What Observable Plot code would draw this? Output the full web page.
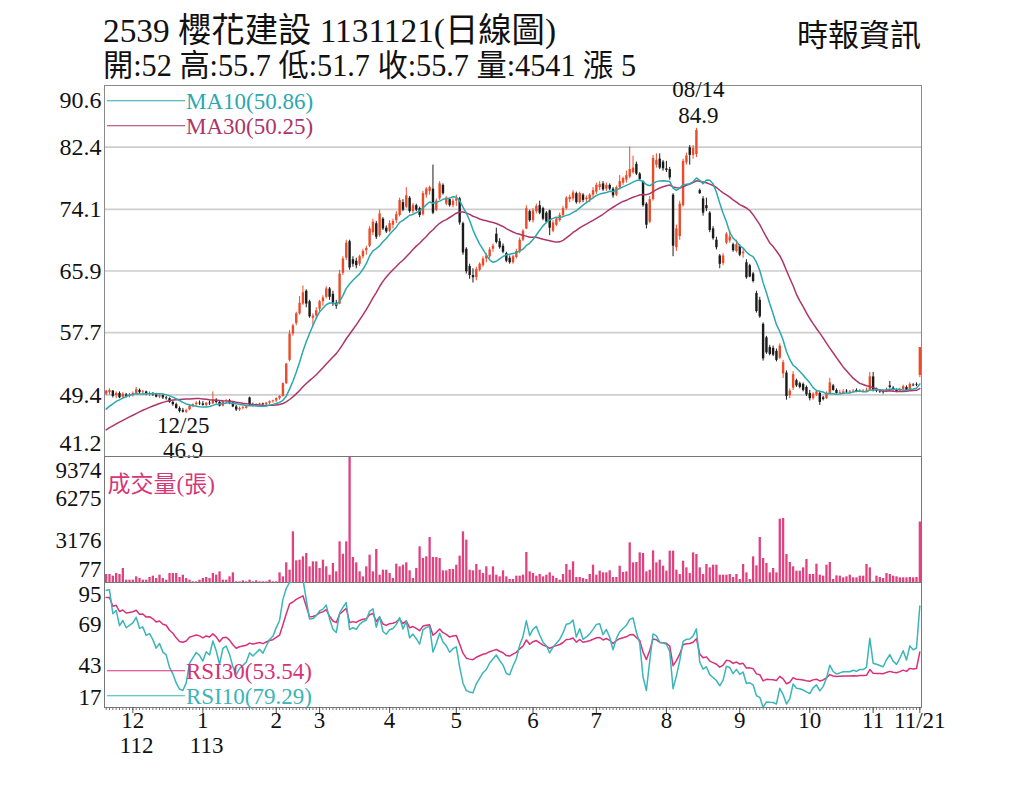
<!DOCTYPE html>
<html><head><meta charset="utf-8">
<script src="https://cdn.jsdelivr.net/npm/d3@7"></script>
<script src="https://cdn.jsdelivr.net/npm/@observablehq/plot@0.6"></script>
<style>
html,body{margin:0;padding:0;background:#fff;}
#chart{position:relative;width:1024px;height:788px;background:#fff;overflow:hidden;font-family:"Liberation Serif","Times New Roman","Noto Sans CJK TC",serif;}
#chart > svg{position:absolute;left:0;}
</style></head><body><div id="chart"></div>
<script>
// ---------- text ----------
const titleText = "2539  櫻花建設 1131121(日線圖)";
const quoteText = "開:52 高:55.7 低:51.7 收:55.7 量:4541 漲 5";
const sourceText = "時報資訊";
const volumeTitle = "成交量(張)";
const maLegend = [{label: "MA10(50.86)", key: "ma10"}, {label: "MA30(50.25)", key: "ma30"}];
const rsiLegend = [{label: "RSI30(53.54)", key: "rsi30"}, {label: "RSI10(79.29)", key: "rsi10"}];
const lowLabel = "12/25", highLabel = "08/14";

// ---------- axis ticks ----------
const priceTicks = [41.2, 49.4, 57.7, 65.9, 74.1, 82.4, 90.6];
const volumeTicks = [77, 3176, 6275, 9374];
const rsiTicks = [17, 43, 69, 95];
const monthIdx = [8, 29, 51, 64, 85, 105, 128, 147, 168, 190, 211, 230, 244];
const monthLabels = ["12", "1", "2", "3", "4", "5", "6", "7", "8", "9", "10", "11", "11/21"];
const yearIdx = [8, 29];
const yearLabels = ["112", "113"];

// closes before the window (inferred from where MA10/MA30 start)
const priorClose = [41.5,41.8,42.0,41.7,42.3,42.6,42.4,43.0,43.2,42.9,43.5,43.8,43.6,44.0,44.3,44.1,44.6,45.0,45.3,45.8,
  46.0,46.4,46.2,46.8,47.3,47.0,47.8,48.5,49.2];

// ---------- daily data (2023/11 .. 2024/11/21) ----------
const open = [
  49.5,49.7,49.9,49.3,49.6,49.1,49.4,49.2,
  49.4,49.6,50.0,49.7,49.8,49.5,49.6,49.4,49.1,49.3,49.0,48.9,48.4,48.1,47.6,47.3,47.1,47.4,47.9,48.1,48.3,
  48.2,48.0,48.3,48.2,48.7,48.4,47.9,48.5,48.6,48.3,47.8,47.4,47.6,47.6,49.0,48.1,48.0,48.1,48.2,48.1,48.3,48.5,
  48.6,48.9,49.2,50.9,54.0,57.5,58.9,60.2,61.5,63.2,61.8,59.6,59.9,
  60.8,61.8,62.4,63.5,62.8,61.6,61.5,65.6,67.6,69.8,67.4,67.2,66.8,67.8,68.6,69.2,71.0,72.2,70.6,72.8,71.6,
  71.2,72.0,72.6,73.3,75.0,74.4,75.6,73.8,74.6,74.2,73.4,76.0,76.5,76.8,74.0,75.5,77.3,74.8,75.4,74.6,
  75.2,75.5,72.2,68.8,66.5,65.3,65.0,66.0,66.6,67.5,67.8,68.8,70.8,69.8,69.2,68.2,67.6,67.0,67.7,68.4,70.0,71.5,73.8,
  72.6,73.8,74.6,74.2,73.6,73.9,71.2,72.0,72.6,73.3,74.2,75.4,75.5,76.2,75.0,76.0,75.4,75.4,76.0,
  76.4,77.0,77.5,76.8,77.3,76.8,76.0,77.0,77.6,78.0,78.4,79.0,80.1,78.8,77.8,74.8,72.4,75.4,80.0,80.8,80.4,
  79.5,79.4,76.0,69.0,70.5,74.6,80.3,82.3,81.3,81.4,76.6,75.5,74.6,73.6,71.5,70.0,67.9,66.9,69.6,69.9,69.4,68.5,
  69.2,68.2,67.0,66.6,65.5,62.9,62.0,58.8,57.0,55.7,55.6,55.2,54.3,52.2,52.3,49.3,50.3,51.3,50.9,50.8,50.4,
  49.6,48.9,49.4,49.6,49.0,48.9,49.6,50.6,50.0,49.6,49.6,49.9,49.7,49.8,50.0,49.8,49.8,49.9,50.0,
  51.8,50.0,49.9,49.8,49.8,50.6,50.3,50.0,49.9,50.1,50.4,50.1,50.7,50.8,52.0
];
const high = [
  50.0,50.2,50.0,49.8,49.8,49.7,49.6,49.6,
  49.8,50.4,50.2,50.0,49.9,49.8,49.7,49.6,49.5,49.4,49.2,49.0,48.6,48.3,47.8,47.6,47.5,48.0,48.2,48.5,48.6,
  48.5,48.4,48.6,49.8,48.9,48.6,48.6,48.8,48.8,48.5,48.0,47.8,47.9,48.0,49.1,48.3,48.2,48.3,48.3,48.4,48.6,48.7,
  49.0,49.3,51.0,53.6,58.0,58.8,60.4,62.5,63.9,63.4,62.0,60.2,61.0,
  62.0,62.6,63.8,63.7,63.2,62.0,66.0,67.8,70.0,70.0,67.8,67.6,68.0,68.8,69.2,71.8,72.8,72.5,74.0,73.0,71.9,
  72.6,72.8,73.8,75.6,75.4,77.0,75.8,74.9,74.8,74.4,76.5,77.0,77.2,80.0,75.5,77.8,77.5,75.8,75.6,75.5,
  76.0,75.7,72.4,69.0,66.8,66.2,66.4,67.0,67.8,68.2,69.0,69.5,71.6,70.2,69.5,68.4,67.9,68.0,68.8,70.3,71.4,74.6,74.0,
  74.2,74.8,75.2,74.4,73.8,74.0,72.6,73.0,73.6,74.5,75.8,76.0,76.6,76.4,76.4,76.2,75.9,76.2,77.0,
  77.6,77.8,77.8,77.6,77.5,77.0,77.2,78.6,78.4,79.2,82.4,81.2,80.4,79.0,77.9,75.0,75.8,81.3,81.5,81.5,80.6,
  80.5,79.7,76.2,72.0,75.2,80.8,81.6,82.6,82.6,84.9,76.8,75.8,75.6,73.8,71.8,70.4,68.1,68.2,71.0,71.3,69.6,70.0,
  69.4,68.8,67.4,66.8,65.7,63.2,62.4,59.0,57.2,56.0,55.9,55.5,56.2,54.0,52.6,50.2,52.5,51.5,51.1,51.0,50.6,
  50.0,49.7,50.0,49.8,49.2,49.8,51.6,50.8,50.2,50.0,50.1,50.1,50.0,50.1,50.2,50.1,50.1,50.3,52.4,
  52.4,50.3,50.1,50.0,50.3,51.2,50.5,50.2,50.3,50.7,50.6,51.0,50.9,51.0,55.7
];
const low = [
  49.3,49.4,49.0,48.9,48.9,48.9,49.0,49.0,
  49.1,49.5,49.5,49.4,49.3,49.2,49.2,49.0,48.9,48.8,48.7,48.3,47.9,47.5,47.0,47.0,46.9,47.3,47.7,47.9,48.0,
  47.9,47.8,48.0,48.1,48.2,47.8,47.8,48.2,48.1,47.7,47.2,47.2,47.4,47.5,47.9,47.8,47.8,47.9,47.9,48.0,48.1,48.3,
  48.4,48.7,49.1,50.8,53.8,57.2,58.6,60.0,61.3,61.0,59.6,58.5,59.5,
  60.5,61.2,62.2,62.0,61.2,60.8,61.4,65.3,67.3,66.0,66.4,66.2,66.5,67.5,68.0,69.0,70.6,70.1,70.4,71.3,70.9,
  71.0,71.5,72.2,73.1,73.8,74.2,73.6,73.5,73.8,73.0,73.2,75.6,76.0,73.4,73.8,75.3,76.0,74.6,74.4,74.3,
  74.5,72.0,68.0,65.5,64.8,64.3,64.6,65.8,66.4,67.0,67.5,68.4,69.5,68.8,68.2,67.0,66.8,66.8,67.5,68.2,69.8,71.4,72.4,
  72.3,73.5,73.4,72.6,72.2,70.6,71.0,71.8,72.4,73.0,74.0,75.0,75.2,74.8,74.8,75.0,74.9,75.0,75.6,
  76.1,76.6,76.5,76.5,76.6,75.6,75.8,76.8,77.3,77.6,78.2,78.8,78.6,77.8,74.4,71.5,72.2,75.2,79.6,79.4,79.2,
  79.0,78.0,67.8,68.5,70.0,74.4,80.0,80.0,80.8,81.0,76.1,73.2,73.8,71.0,70.0,68.7,66.2,66.6,69.4,69.6,68.4,68.3,
  67.8,67.6,64.8,65.0,64.3,60.3,59.6,53.9,54.8,54.6,54.5,53.8,54.1,51.6,48.7,48.9,50.0,50.4,50.2,49.8,49.2,
  48.6,48.7,49.2,48.0,48.6,48.8,49.5,49.9,49.5,49.5,49.5,49.6,49.6,49.7,49.7,49.7,49.7,49.8,49.9,
  49.8,49.7,49.6,49.5,49.7,50.2,49.9,49.7,49.8,50.0,49.9,50.0,50.5,50.5,51.7
];
const close = [
  49.9,50.0,49.2,49.6,49.0,49.5,49.2,49.4,
  49.6,50.1,49.7,49.8,49.5,49.6,49.4,49.1,49.3,49.0,48.9,48.4,48.1,47.6,47.2,47.1,47.3,47.9,48.1,48.3,48.2,
  48.0,48.3,48.2,48.7,48.4,47.9,48.5,48.6,48.3,47.8,47.4,47.6,47.7,47.8,48.1,48.0,48.1,48.2,48.1,48.3,48.5,48.6,
  48.9,49.2,50.9,53.5,57.5,58.6,60.2,61.6,63.0,61.5,59.8,59.9,60.6,
  61.8,62.3,63.5,62.4,61.5,61.2,65.5,67.5,69.6,66.3,66.8,66.6,67.8,68.5,68.9,71.5,72.4,70.4,73.5,71.5,71.1,
  72.2,72.5,73.4,75.3,74.0,75.9,73.8,74.6,74.0,73.3,76.2,76.8,77.0,73.6,75.2,77.5,76.2,75.6,74.6,75.2,
  75.5,72.3,68.3,65.8,65.3,65.0,66.1,66.8,67.5,67.9,68.7,69.2,69.7,69.0,68.4,67.2,67.0,67.8,68.5,70.0,71.2,74.2,72.6,
  73.9,74.5,73.6,72.8,72.4,71.6,72.3,72.8,73.3,74.2,75.6,75.7,76.3,75.0,76.2,75.3,75.6,76.0,76.6,
  77.3,77.4,76.7,77.3,76.8,75.9,77.0,77.8,78.2,78.6,79.4,79.6,78.8,78.1,74.6,72.0,75.4,80.9,80.6,79.6,79.5,
  79.3,78.3,69.2,71.5,74.8,80.5,81.2,81.3,82.2,84.6,76.2,73.6,74.2,71.3,70.2,69.0,66.8,67.9,70.8,70.4,68.6,69.4,
  68.0,68.4,65.0,65.1,64.5,60.5,59.8,54.2,55.0,54.8,54.7,54.0,55.9,53.7,49.2,49.9,52.1,50.6,50.4,50.0,49.4,
  48.9,49.5,49.8,48.4,48.8,49.6,51.0,50.0,49.6,49.7,49.8,49.8,49.8,49.9,49.8,49.9,49.9,50.0,51.8,
  50.0,49.9,49.8,49.7,50.1,50.4,50.0,49.8,50.1,50.5,50.0,50.8,50.6,50.7,55.7
];
const volume = [
  667,667,544,741,667,1110,250,250,250,495,
  372,250,250,446,544,372,618,372,250,741,
  741,741,446,618,372,250,126,126,250,372,
  446,372,741,618,864,250,250,495,790,126,
  126,200,126,250,126,200,126,126,126,250,
  126,126,790,495,1528,987,3816,1676,1725,1971,
  2217,1233,1602,1602,1110,1725,1233,618,1479,864,
  3078,2168,3078,9374,1922,1528,864,495,1233,2094,
  864,2512,618,987,987,741,372,1430,1233,1356,
  1528,938,372,1110,2709,1848,1971,3398,1922,1922,
  1848,938,938,1036,1036,1356,2020,3816,3201,987,
  938,1405,987,741,1233,618,1233,618,495,938,
  495,298,298,544,544,618,2291,864,741,544,
  667,495,618,790,544,372,250,667,1405,987,
  1602,446,446,372,298,667,1356,618,913,790,
  790,938,446,446,1282,815,864,3004,1528,1553,
  2266,2217,864,987,2414,1528,1725,1282,913,2389,
  2389,987,667,1651,1159,741,2266,2143,1159,667,
  1405,1159,1356,1356,618,618,618,667,446,667,
  298,1405,790,298,1971,1307,3398,1848,1479,790,
  1110,790,4751,4800,2143,1553,1233,913,913,1159,
  1774,667,667,1430,618,544,1356,1553,298,569,
  544,421,495,618,421,421,544,544,1405,1159,
  126,544,446,372,741,667,544,495,421,421,
  421,446,421,446,4541
];

// ---------- indicators ----------
const N = close.length;
const P = priorClose.length;
const full = priorClose.concat(close);
const sma = n => close.map((_, i) => d3.mean(full.slice(Math.max(0, P + i - n + 1), P + i + 1)));
function rsi(n) {
  let ag = 0, al = 0; const out = [];
  for (let k = 1; k < full.length; k++) {
    const d = full[k] - full[k - 1], g = Math.max(d, 0), l = Math.max(-d, 0);
    if (k <= n) { ag += (g - ag) / k; al += (l - al) / k; }
    else { ag = (ag * (n - 1) + g) / n; al = (al * (n - 1) + l) / n; }
    out[k] = (ag + al) === 0 ? 50 : 100 * ag / (ag + al);
  }
  return close.map((_, i) => out[P + i]);
}
const ma10 = sma(10), ma30 = sma(30), rsi10 = rsi(10), rsi30 = rsi(30);
const rows = close.map((c, i) => ({
  i, open: open[i], high: high[i], low: low[i], close: c, volume: volume[i],
  ma10: ma10[i], ma30: ma30[i], rsi10: rsi10[i], rsi30: rsi30[i], up: c >= open[i]
}));

// ---------- style ----------
const FONT = '"Liberation Serif","Times New Roman","Noto Sans CJK TC",serif';
const UP = "#ec4a28", DOWN = "#1b1b1b";
const C_MA10 = "#2aa8ae", C_MA30 = "#ad3569";
const C_RSI10 = "#3bb5b8", C_RSI30 = "#d6317a";
const C_VOL = "#e2417f";
const W = 1024, ML = 104, MR = 103;
const xDomain = [-0.5, N - 0.5];
const baseStyle = {background: "none", overflow: "visible", fontFamily: FONT, color: "#111"};

function legend(items, colors, y0, gap) {
  return (index, scales, values, dims) => {
    const g = d3.create("svg:g");
    items.forEach((it, k) => {
      const y = dims.marginTop + y0 + k * gap;
      g.append("line").attr("x1", dims.marginLeft + 3).attr("x2", dims.marginLeft + 81)
        .attr("y1", y).attr("y2", y).attr("stroke", colors[it.key]).attr("stroke-width", 1.1);
      g.append("text").attr("x", dims.marginLeft + 82).attr("y", y).attr("dy", "0.36em")
        .attr("text-anchor", "start")
        .attr("fill", colors[it.key]).attr("font-size", 23).attr("font-family", FONT).text(it.label);
    });
    return g.node();
  };
}
function sideLabels(ticks, fmt, topDy, botDy, size) {
  const lo = ticks[0], hi = ticks[ticks.length - 1];
  const common = {frameAnchor: "left", textAnchor: "end", dx: -3, fontSize: size, fill: "#111", text: fmt};
  return [
    Plot.text(ticks.filter(t => t !== lo && t !== hi), {...common, y: d => d}),
    Plot.text([hi], {...common, y: d => d, dy: topDy}),
    Plot.text([lo], {...common, y: d => d, dy: botDy})
  ];
}

const root = document.getElementById("chart");

// ---------- header ----------
const header = d3.create("svg").attr("width", W).attr("height", 85).style("top", "0px")
  .attr("font-family", FONT).style("white-space", "pre");
header.append("text").attr("x", 103).attr("y", 42).attr("font-size", 34).attr("fill", "#111")
  .attr("textLength", 453).attr("lengthAdjust", "spacingAndGlyphs").text(titleText);
header.append("text").attr("x", 103).attr("y", 76).attr("font-size", 31).attr("fill", "#111")
  .attr("textLength", 533).attr("lengthAdjust", "spacingAndGlyphs").text(quoteText);
header.append("text").attr("x", 797).attr("y", 46).attr("font-size", 31).attr("fill", "#111")
  .attr("textLength", 124).attr("lengthAdjust", "spacingAndGlyphs").text(sourceText);
root.appendChild(header.node());

// ---------- price panel ----------
const iLow = d3.minIndex(low), iHigh = d3.maxIndex(high);
const pricePlot = Plot.plot({
  width: W, height: 381, marginTop: 10, marginBottom: 0, marginLeft: ML, marginRight: MR,
  style: baseStyle,
  x: {domain: xDomain, axis: null},
  y: {domain: [priceTicks[0], priceTicks[priceTicks.length - 1]], axis: null},
  marks: [
    Plot.ruleY(priceTicks.slice(1, -1), {stroke: "#cdcdcd", strokeWidth: 1.6}),
    Plot.frame({stroke: "#8a8a8a"}),
    legend(maLegend, {ma10: C_MA10, ma30: C_MA30}, 15.7, 25),
    Plot.ruleX(rows, {x: "i", y1: "low", y2: "high", stroke: d => d.up ? UP : DOWN, strokeWidth: 1}),
    Plot.ruleX(rows, {x: "i", y1: "open", y2: d => d.close === d.open ? d.close + 0.1 : d.close,
      stroke: d => d.up ? UP : DOWN, strokeWidth: 2.4}),
    Plot.line(rows, {x: "i", y: "ma30", stroke: C_MA30, strokeWidth: 1.5}),
    Plot.line(rows, {x: "i", y: "ma10", stroke: C_MA10, strokeWidth: 1.5}),
    ...sideLabels(priceTicks, d => d.toFixed(1), 15, -13, 24),
    Plot.text([iLow], {x: d => d, y: d => low[d], text: () => lowLabel, dx: -3, dy: 12, fontSize: 23, fill: "#111"}),
    Plot.text([iLow], {x: d => d, y: d => low[d], text: d => low[d].toFixed(1), dx: -3, dy: 37, fontSize: 23, fill: "#111"}),
    Plot.text([iHigh], {x: d => d, y: d => high[d], text: () => highLabel, dx: 2, dy: -39, fontSize: 23, fill: "#111"}),
    Plot.text([iHigh], {x: d => d, y: d => high[d], text: d => high[d].toFixed(1), dx: 2, dy: -13, fontSize: 23, fill: "#111"})
  ]
});
pricePlot.style.top = "75px";
root.appendChild(pricePlot);

// ---------- volume panel ----------
const volPlot = Plot.plot({
  width: W, height: 126, marginTop: 0, marginBottom: 0, marginLeft: ML, marginRight: MR,
  style: baseStyle,
  x: {domain: xDomain, axis: null},
  y: {domain: [volumeTicks[0], volumeTicks[volumeTicks.length - 1]], axis: null, clamp: true},
  marks: [
    Plot.ruleX(rows, {x: "i", y1: volumeTicks[0], y2: "volume", stroke: C_VOL, strokeWidth: 2.3}),
    Plot.frame({stroke: "#777"}),
    Plot.text([volumeTitle], {frameAnchor: "top-left", dx: 3, dy: 19, textAnchor: "start", fontSize: 23, fill: "#d63777"}),
    ...sideLabels(volumeTicks, d => String(d), 14, -13, 23)
  ]
});
volPlot.style.top = "456px";
root.appendChild(volPlot);

// ---------- RSI panel ----------
const rsiPlot = Plot.plot({
  width: W, height: 206, marginTop: 0, marginBottom: 81, marginLeft: ML, marginRight: MR,
  style: baseStyle,
  x: {domain: xDomain, axis: null},
  y: {domain: [rsiTicks[0], rsiTicks[rsiTicks.length - 1]], axis: null},
  marks: [
    Plot.frame({stroke: "#777"}),
    Plot.line(rows, {x: "i", y: "rsi30", stroke: C_RSI30, strokeWidth: 1.5, clip: true}),
    Plot.line(rows, {x: "i", y: "rsi10", stroke: C_RSI10, strokeWidth: 1.5, clip: true}),
    legend(rsiLegend, {rsi10: C_RSI10, rsi30: C_RSI30}, 88.7, 25),
    Plot.axisX(d3.range(N), {anchor: "bottom", tickSize: 3, fill: "none", stroke: "#777", label: null}),
    Plot.axisX(monthIdx, {anchor: "bottom", tickSize: 6, fill: "none", stroke: "#555", label: null}),
    Plot.text(monthIdx, {x: d => d, frameAnchor: "bottom", text: (d, k) => monthLabels[k], dy: 20, fontSize: 23, fill: "#111"}),
    Plot.text(yearIdx, {x: d => d, frameAnchor: "bottom", text: (d, k) => yearLabels[k], dx: -13, dy: 45, textAnchor: "start", fontSize: 23, fill: "#111"}),
    ...sideLabels(rsiTicks, d => String(d), 12, -10, 23)
  ]
});
rsiPlot.style.top = "582px";
root.appendChild(rsiPlot);
</script></body></html>
